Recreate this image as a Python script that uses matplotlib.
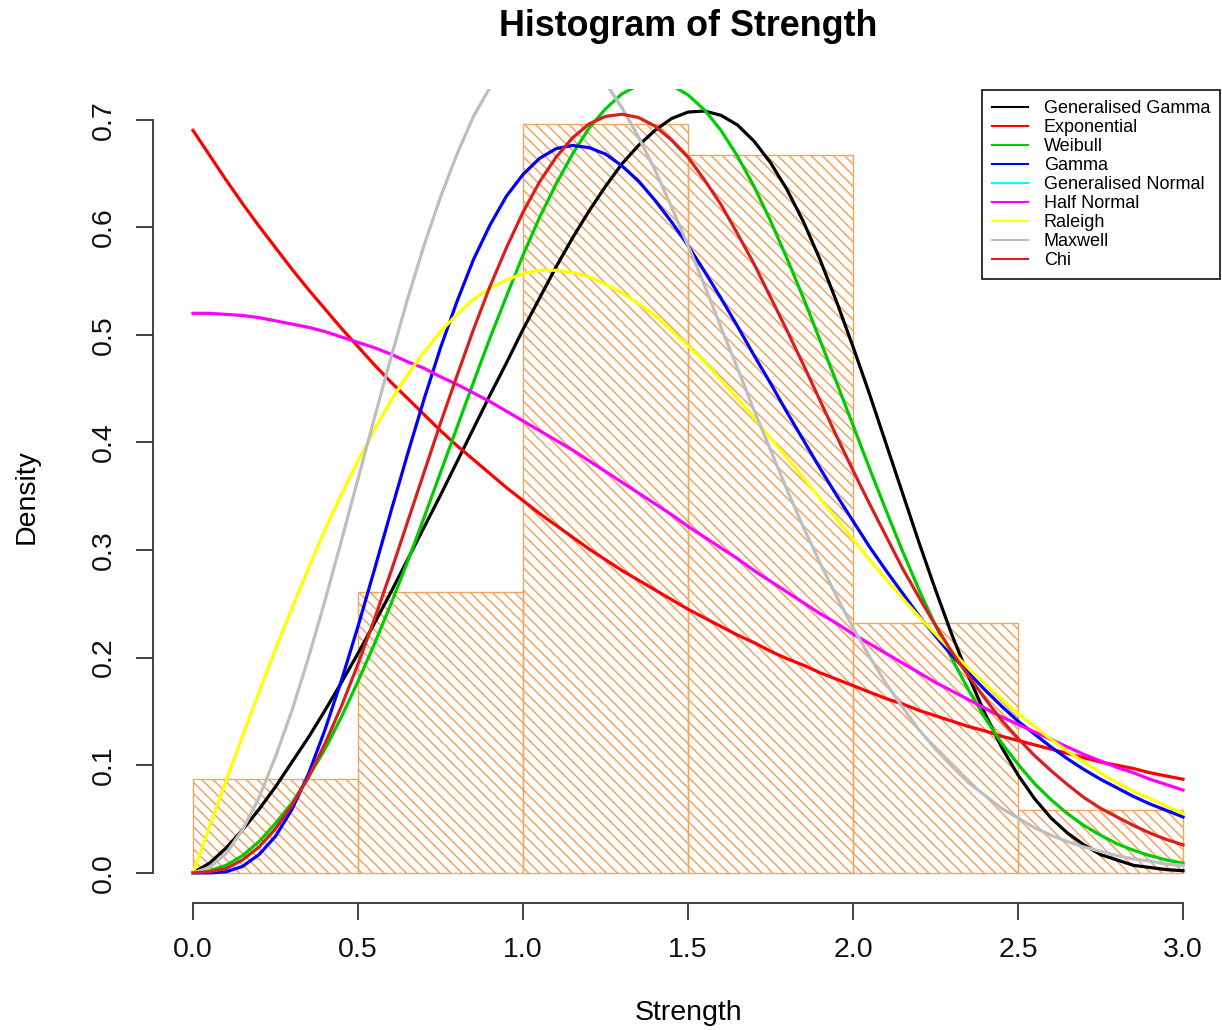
import numpy as np
import matplotlib
matplotlib.use("Agg")
import matplotlib.pyplot as plt
from matplotlib.lines import Line2D

plt.rcParams['font.family'] = ['Liberation Sans', 'DejaVu Sans']
plt.rcParams['hatch.linewidth'] = 1.1

# histogram of Strength (counts per 0.5-wide bin)
bin_edges = [0.0, 0.5, 1.0, 1.5, 2.0, 2.5, 3.0]
bin_counts = [3, 9, 24, 23, 8, 2]

x_grid = np.linspace(0, 3, 61)
gen_gamma = [0, 9, 23, 40, 59, 80, 103, 126, 151, 177, 204, 232, 261, 291, 321, 351, 382, 413, 444, 474,
             505, 534, 563, 590, 615, 638, 659, 676, 690, 701, 707, 708, 704, 695, 680, 660, 635, 605, 570, 531,
             489, 445, 399, 353, 307, 263, 221, 183, 148, 117, 91, 69, 51, 37, 26, 17, 12, 7, 5, 3, 2]
exponential = [690, 667, 644, 622, 601, 581, 561, 542, 524, 506, 489, 472, 456, 441, 426, 411, 397, 384, 371, 358,
               346, 334, 323, 312, 301, 291, 281, 272, 263, 254, 245, 237, 229, 221, 214, 206, 199, 193, 186, 180,
               174, 168, 162, 157, 151, 146, 141, 136, 132, 127, 123, 119, 115, 111, 107, 103, 100, 97, 93, 90, 87]
weibull = [0, 2, 7, 16, 29, 46, 65, 89, 115, 145, 178, 213, 250, 289, 330, 372, 414, 456, 497, 536,
           574, 609, 640, 668, 692, 710, 724, 732, 735, 732, 723, 709, 690, 666, 638, 606, 571, 534, 495, 456,
           416, 376, 337, 299, 263, 230, 199, 170, 144, 121, 101, 83, 68, 55, 44, 35, 27, 21, 16, 12, 9]
gamma = [0, 0, 1, 6, 17, 34, 59, 92, 133, 179, 229, 282, 336, 389, 440, 488, 531, 570, 602, 629,
         649, 664, 673, 676, 674, 668, 657, 643, 625, 605, 583, 559, 534, 508, 481, 455, 428, 402, 376, 351,
         327, 303, 281, 260, 239, 220, 202, 186, 170, 155, 141, 129, 117, 106, 96, 87, 79, 71, 64, 58, 52]
half_normal = [520, 520, 519, 518, 516, 513, 510, 507, 503, 498, 493, 488, 482, 475, 469, 461, 454, 446, 438, 429,
               420, 411, 402, 393, 383, 373, 363, 353, 343, 333, 322, 312, 302, 292, 281, 271, 261, 251, 241, 232,
               222, 213, 204, 195, 186, 177, 169, 161, 153, 145, 138, 131, 124, 117, 110, 104, 98, 93, 87, 82, 77]
raleigh = [0, 43, 85, 127, 168, 208, 246, 283, 319, 352, 383, 412, 439, 463, 484, 503, 519, 533, 543, 551,
           557, 560, 560, 558, 554, 547, 539, 529, 518, 504, 490, 475, 458, 441, 423, 404, 386, 367, 348, 329,
           310, 291, 273, 255, 238, 222, 206, 190, 176, 162, 148, 136, 124, 113, 103, 93, 84, 76, 69, 62, 55]
maxwell = [0, 5, 18, 40, 70, 108, 151, 200, 253, 309, 366, 423, 479, 533, 583, 628, 668, 703, 730, 751,
           765, 772, 772, 765, 752, 734, 711, 684, 653, 619, 583, 546, 507, 469, 430, 393, 356, 321, 288, 257,
           228, 201, 176, 154, 133, 115, 99, 84, 72, 60, 51, 42, 35, 29, 24, 20, 16, 13, 11, 8, 7]
chi = [0, 1, 4, 12, 24, 41, 63, 89, 120, 155, 194, 236, 280, 326, 372, 418, 462, 505, 545, 581,
       614, 642, 665, 683, 696, 703, 705, 702, 694, 681, 665, 644, 621, 594, 566, 535, 504, 472, 439, 406,
       374, 343, 313, 283, 256, 230, 205, 183, 162, 142, 125, 109, 95, 82, 70, 60, 52, 44, 37, 31, 26]

legend_names = ["Generalised Gamma", "Exponential", "Weibull", "Gamma", "Generalised Normal",
                "Half Normal", "Raleigh", "Maxwell", "Chi"]
legend_cols = ["black", "red", "#00cd00", "blue", "cyan", "magenta", "yellow", "#bebebe", "#d82020"]

fig = plt.figure(figsize=(12.22, 10.30), dpi=100)
ax = fig.add_axes([0.12553, 0.12330, 0.87496, 0.78981])

dens = np.array(bin_counts) / (sum(bin_counts) * 0.5)
ax.bar(bin_edges[:-1], dens, width=0.5, align="edge", fill=False, hatch="\\\\\\",
       edgecolor="#f4a460", linewidth=1.0, zorder=1)

curves = [(gen_gamma, "black"), (exponential, "red"), (weibull, "#00cd00"), (gamma, "blue"),
          (half_normal, "magenta"), (raleigh, "yellow"), (maxwell, "#bebebe"), (chi, "#d82020")]
for vals, col in curves:
    ax.plot(x_grid, np.array(vals) / 1000, color=col, lw=2.3, zorder=2)

ax.set_xlim(-0.12, 3.12)
ax.set_ylim(-0.028, 0.728)
for sp in ["top", "right"]:
    ax.spines[sp].set_visible(False)
ax.spines["left"].set_bounds(0, 0.7)
ax.spines["bottom"].set_bounds(0, 3)
for sp in ["left", "bottom"]:
    ax.spines[sp].set_color("#333333")
    ax.spines[sp].set_linewidth(1.3)

ax.set_xticks(bin_edges)
ax.set_xticklabels(["%.1f" % v for v in bin_edges])
yt = [0.0, 0.1, 0.2, 0.3, 0.4, 0.5, 0.6, 0.7]
ax.set_yticks(yt)
ax.set_yticklabels(["%.1f" % v for v in yt], rotation=90, va="center")
ax.tick_params(direction="out", length=12.5, width=1.3, color="#333333", labelsize=20.5, labelcolor="#111111")
ax.tick_params(axis="x", pad=12)
ax.tick_params(axis="y", pad=14)

fig.text(688 / 1222, 1 - 27 / 1030, "Histogram of Strength", fontsize=25.8, fontweight="bold",
         ha="center", va="center")
fig.text(688 / 1222, 1 - 1013 / 1030, "Strength", fontsize=20.5, ha="center", va="center")
fig.text(27 / 1222, 1 - 497 / 1030, "Density", fontsize=20.5, rotation=90, ha="center", va="center")

handles = [Line2D([0], [0], color=c, lw=1.5) for c in legend_cols]
leg = ax.legend(handles, legend_names, loc="upper right", bbox_to_anchor=(1220 / 1222, 1 - 90 / 1030),
                bbox_transform=fig.transFigure, borderaxespad=0, fontsize=13, fancybox=False,
                framealpha=1, edgecolor="#222222", handlelength=2.0, handletextpad=0.85,
                labelspacing=0.11, borderpad=0.55)
leg.get_frame().set_linewidth(1.3)

fig.savefig("out.png", dpi=100)
